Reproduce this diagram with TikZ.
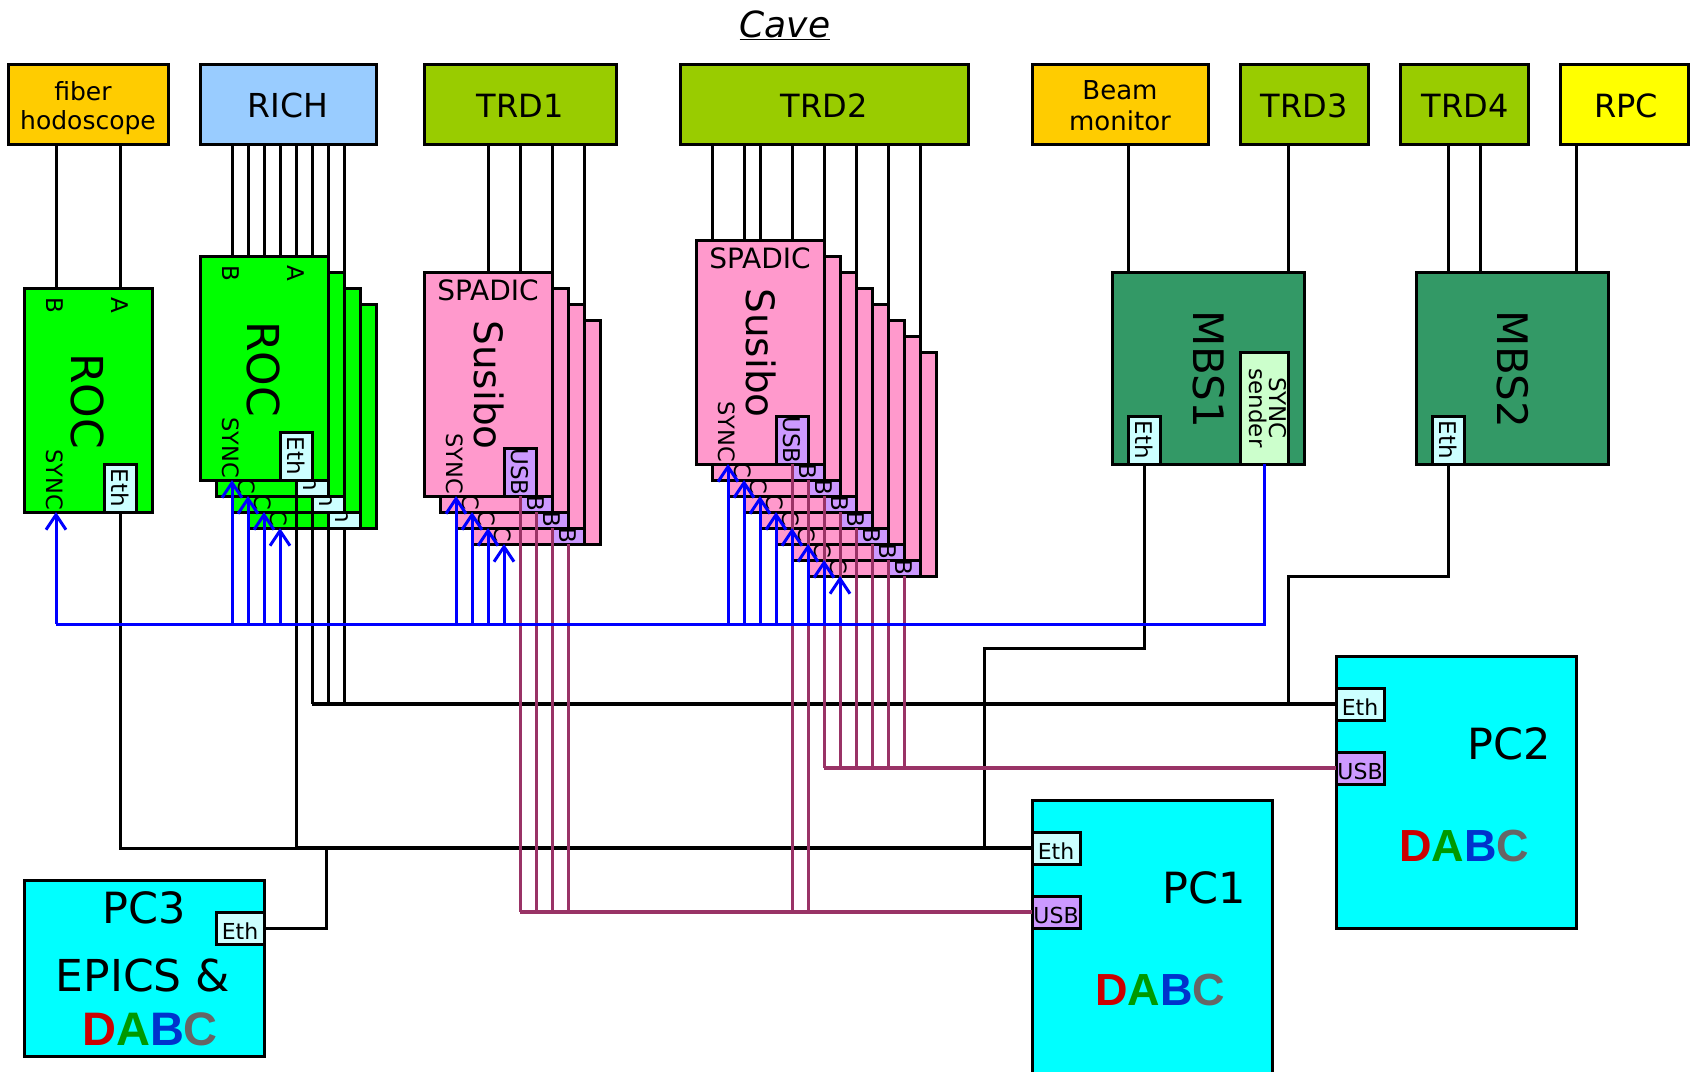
\documentclass[tikz,border=0pt]{standalone}
\usepackage{fontspec}
\setmainfont{DejaVu Sans}
\newfontfamily\dabcfont{Liberation Sans}
\usetikzlibrary{arrows.meta,calc}
\definecolor{cOrange}{HTML}{FFCC00}
\definecolor{cBlue}{HTML}{99CCFF}
\definecolor{cOlive}{HTML}{99CC00}
\definecolor{cYel}{HTML}{FFFF00}
\definecolor{cGreen}{HTML}{00FF00}
\definecolor{cPink}{HTML}{FF99CC}
\definecolor{cEth}{HTML}{CCFFFF}
\definecolor{cUsb}{HTML}{CC99FF}
\definecolor{cMbs}{HTML}{339966}
\definecolor{cSend}{HTML}{CCFFCC}
\definecolor{cPc}{HTML}{00FFFF}
\definecolor{cSync}{HTML}{0000FF}
\definecolor{cWire}{HTML}{993366}
\definecolor{dR}{HTML}{CC0000}
\definecolor{dG}{HTML}{009900}
\definecolor{dB}{HTML}{0033CC}
\definecolor{dC}{HTML}{666666}
\newcommand{\fs}[1]{\fontsize{#1}{#1}\selectfont}
\newcommand{\dabc}[1]{\dabcfont\bfseries\fs{#1}\textcolor{dR}{D}\textcolor{dG}{A}\textcolor{dB}{B}\textcolor{dC}{C}}
\tikzset{
 x=1pt,y=-1pt,
 boxn/.style={draw=black,line width=3pt,anchor=north west,inner sep=0pt,outer sep=0pt,align=center,text=black},
 lbl/.style={inner sep=0pt,outer sep=0pt,text=black,anchor=center,align=center},
 rot/.style={lbl,rotate=-90},
 wire/.style={draw=black,line width=3pt},
 bus/.style={draw=black,line width=3.6pt},
 usbw/.style={draw=cWire,line width=3pt},
 usbbus/.style={draw=cWire,line width=3.6pt},
 syncw/.style={draw=cSync,line width=3pt},
 syncarr/.style={syncw,-{Straight Barb[length=15pt,width=20pt,line width=3pt]}},
}
% #1 name, #2 x, #3 y, #4 w, #5 h, #6 fill, #7 text, #8 font size, #9 text offset
\newcommand{\topbox}[9]{\node[boxn,fill=#6,minimum width=#4pt,minimum height=#5pt] (#1) at (#2,#3) {};
 \node[lbl,font=\fs{#8}] (#1t) at ($(#1.center)+(#9)$) {#7};}
\newcommand{\vtab}[5]{\node[boxn,fill=#4,minimum width=32pt,minimum height=48pt] (#1) at (#2,#3) {};
 \node[rot,font=\fs{23}] (#1t) at (#1.center) {#5};}
\newcommand{\htab}[5]{\node[boxn,fill=#4,minimum width=48pt,minimum height=32pt] (#1) at (#2,#3) {};
 \node[lbl,font=\fs{22}] (#1t) at ($(#1.center)+(0,3)$) {#5};}
% ROC board: name x y
\newcommand{\rocboard}[3]{%
 \node[boxn,fill=cGreen,minimum width=128pt,minimum height=224pt] (#1) at (#2,#3) {};
 \node[rot,font=\fs{23}] (#1b) at ($(#1.north west)+(31,17)$) {B};
 \node[rot,font=\fs{23}] (#1a) at ($(#1.north west)+(96,17)$) {A};
 \node[rot,font=\fs{44}] (#1n) at ($(#1.north west)+(64,113)$) {ROC};
 \node[rot,font=\fs{22.5}] (#1s) at ($(#1.north west)+(31,191.5)$) {SYNC};
 \vtab{#1e}{\the\numexpr#2+80\relax}{\the\numexpr#3+176\relax}{cEth}{Eth}
 \coordinate (#1S) at ($(#1.south west)+(32,0)$);
 \coordinate (#1E) at ($(#1.south west)+(96,0)$);
}
\newcommand{\susiboard}[3]{%
 \node[boxn,fill=cPink,minimum width=128pt,minimum height=224pt] (#1) at (#2,#3) {};
 \node[lbl,font=\fs{28}] (#1p) at ($(#1.north west)+(64,18)$) {SPADIC};
 \node[rot,font=\fs{39}] (#1n) at ($(#1.north west)+(65,113)$) {Susibo};
 \node[rot,font=\fs{22.5}] (#1s) at ($(#1.north west)+(31,191.5)$) {SYNC};
 \vtab{#1u}{\the\numexpr#2+80\relax}{\the\numexpr#3+176\relax}{cUsb}{USB}
 \coordinate (#1S) at ($(#1.south west)+(32,0)$);
 \coordinate (#1U) at ($(#1.south west)+(96,0)$);
}
\begin{document}
\begin{tikzpicture}
\path[use as bounding box] (0,0) rectangle (1692,1071);
\clip (0,0) rectangle (1692,1071);
\fill[white] (0,0) rectangle (1692,1071);
\node[lbl,font=\fs{36}\itshape] (cave) at (785,25) {\underline{Cave}};
% top boxes
\topbox{hodo}{8}{64}{160}{80}{cOrange}{fiber\hspace*{10pt}\\[4pt]hodoscope}{25}{0,4}
\topbox{rich}{200}{64}{176}{80}{cBlue}{RICH}{33}{0,1.5}
\topbox{trdA}{424}{64}{192}{80}{cOlive}{TRD1}{32}{0,1.5}
\topbox{trdB}{680}{64}{288}{80}{cOlive}{TRD2}{32}{0,1.5}
\topbox{beam}{1032}{64}{176}{80}{cOrange}{Beam\\[5pt]monitor}{26}{0,2}
\topbox{trdC}{1240}{64}{128}{80}{cOlive}{TRD3}{32}{0,1.5}
\topbox{trdD}{1400}{64}{128}{80}{cOlive}{TRD4}{32}{1,1.5}
\topbox{rpc}{1560}{64}{128}{80}{cYel}{RPC}{32}{2,1.5}
% anchors for wires from the top boxes (x positions on the boards)
\coordinate (tA1) at (56,288);\coordinate (tA2) at (120,288);
\foreach \i/\xx/\yy in {1/232/256,2/248/272,3/264/288,4/280/304,5/296/256,6/312/272,7/328/288,8/344/304}
  {\coordinate (tR\i) at (\xx,\yy);\draw[wire] (rich.south -| tR\i) -- (tR\i);}
\foreach \i/\xx/\yy in {1/488/272,2/520/288,3/552/304,4/584/320}
  {\coordinate (tT\i) at (\xx,\yy);\draw[wire] (trdA.south -| tT\i) -- (tT\i);}
\foreach \i/\xx/\yy in {1/712/240,2/744/256,3/760/272,4/792/288,5/824/304,6/856/320,7/888/336,8/920/352}
  {\coordinate (tU\i) at (\xx,\yy);\draw[wire] (trdB.south -| tU\i) -- (tU\i);}
\draw[wire] (hodo.south -| tA1) -- (tA1);
\draw[wire] (hodo.south -| tA2) -- (tA2);
% ROC boards
\rocboard{rs}{24}{288}
\rocboard{rd}{248}{304}
\rocboard{rc}{232}{288}
\rocboard{rb}{216}{272}
\rocboard{ra}{200}{256}
% TRD1 boards
\susiboard{sd}{472}{320}
\susiboard{sc}{456}{304}
\susiboard{sb}{440}{288}
\susiboard{sa}{424}{272}
% TRD2 boards
\susiboard{uh}{808}{352}
\susiboard{ug}{792}{336}
\susiboard{uf}{776}{320}
\susiboard{ue}{760}{304}
\susiboard{ud}{744}{288}
\susiboard{uc}{728}{272}
\susiboard{ub}{712}{256}
\susiboard{ua}{696}{240}
% MBS
\node[boxn,fill=cMbs,minimum width=192pt,minimum height=192pt] (mbsA) at (1112,272) {};
\node[rot,font=\fs{42}] (mbsAn) at (1209,369) {MBS1};
\vtab{mbsAe}{1128}{416}{cEth}{Eth}
\node[boxn,fill=cSend,minimum width=48pt,minimum height=112pt] (send) at (1240,352) {};
\node[rot,font=\fs{23},align=center] (sendt) at (1267.5,408) {SYNC\\[-3pt]sender};
\node[boxn,fill=cMbs,minimum width=192pt,minimum height=192pt] (mbsB) at (1416,272) {};
\node[rot,font=\fs{42}] (mbsBn) at (1513,369) {MBS2};
\vtab{mbsBe}{1432}{416}{cEth}{Eth}
\coordinate (mA1) at (1128,272);\coordinate (mA2) at (1288,272);
\coordinate (mB1) at (1448,272);\coordinate (mB2) at (1480,272);\coordinate (mB3) at (1576,272);
\draw[wire] (beam.south -| mA1) -- (mA1);
\draw[wire] (trdC.south -| mA2) -- (mA2);
\draw[wire] (trdD.south -| mB1) -- (mB1);
\draw[wire] (trdD.south -| mB2) -- (mB2);
\draw[wire] (rpc.south -| mB3) -- (mB3);
% PCs
\node[boxn,fill=cPc,minimum width=240pt,minimum height=280pt] (pcA) at (1032,800) {};
\node[lbl,font=\fs{43}] (pcAn) at (1204,888) {PC1};
\node[lbl] (pcAd) at (1160,990) {\dabc{45}};
\htab{pcAe}{1032}{832}{cEth}{Eth}
\htab{pcAu}{1032}{896}{cUsb}{USB}
\node[boxn,fill=cPc,minimum width=240pt,minimum height=272pt] (pcB) at (1336,656) {};
\node[lbl,font=\fs{43}] (pcBn) at (1509,744) {PC2};
\node[lbl] (pcBd) at (1464,846) {\dabc{45}};
\htab{pcBe}{1336}{688}{cEth}{Eth}
\htab{pcBu}{1336}{752}{cUsb}{USB}
\node[boxn,fill=cPc,minimum width=240pt,minimum height=176pt] (pcC) at (24,880) {};
\node[lbl,font=\fs{43}] (pcCn) at (144,908) {PC3};
\node[lbl,font=\fs{44}] (pcCe) at (143,975) {EPICS \&};
\node[lbl] (pcCd) at (150,1029) {\dabc{47}};
\htab{pcCt}{216}{912}{cEth}{Eth}
% Ethernet
\coordinate (jS) at (rsE |- pcAe.west);
\coordinate (jRa) at (raE |- pcAe.west);
\coordinate (jPc) at (326,848);
\coordinate (jM) at (984,848);
\coordinate (mTurnA) at (984,648);
\coordinate (jP2) at (1288,704);
\coordinate (mTurnB) at (1288,576);
\draw[bus] (jRa) -- (pcAe.west);
\draw[wire] (rsE) -- (jS) -- (jRa);
\draw[wire] (raE) -- (jRa);
\draw[wire] (pcCt.east) -| (jPc);
\draw[wire] (mbsAe.south) |- (mTurnA) -- (jM);
\coordinate (bR) at (rbE |- pcBe.west);
\draw[bus] (bR) -- (pcBe.west);
\draw[wire] (rbE) -- (bR);
\draw[wire] (rcE) -- (rcE |- pcBe.west);
\draw[wire] (rdE) -- (rdE |- pcBe.west);
\draw[wire] (mbsBe.south) |- (mTurnB) -- (jP2);
% USB
\coordinate (uA) at (saU |- pcAu.west);
\draw[usbbus] (uA) -- (pcAu.west);
\foreach \n in {sa,sb,sc,sd,ua,ub}{\draw[usbw] (\n U) -- (\n U |- pcAu.west);}
\coordinate (uB) at (ucU |- pcBu.west);
\draw[usbbus] (uB) -- (pcBu.west);
\foreach \n in {uc,ud,ue,uf,ug,uh}{\draw[usbw] (\n U) -- (\n U |- pcBu.west);}
% SYNC
\coordinate (synL) at (56,624);
\coordinate (synR) at (1264,624);
\draw[syncw] (send.south -| synR) -- (synR) -- (synL);
\foreach \n in {rs,ra,rb,rc,rd,sa,sb,sc,sd,ua,ub,uc,ud,ue,uf,ug,uh}{\draw[syncarr] (\n S |- synL) -- (\n S);}
\end{tikzpicture}
\end{document}
